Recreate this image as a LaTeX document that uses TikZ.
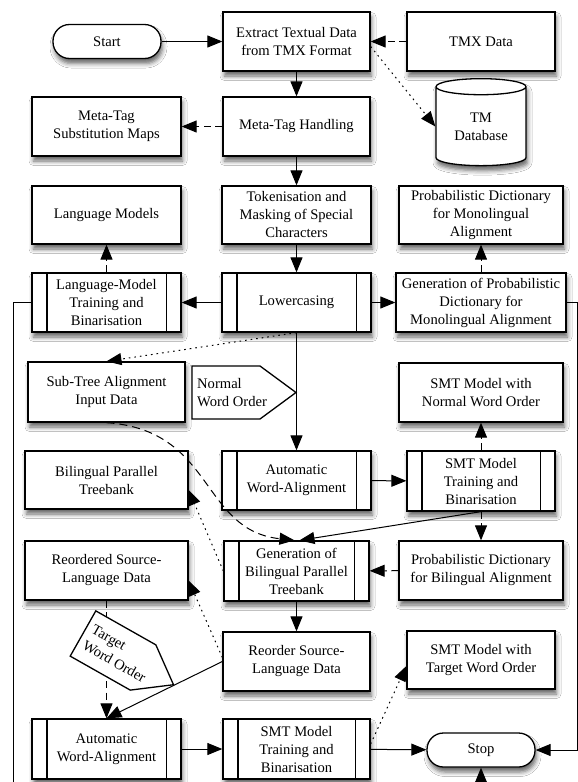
\documentclass[tikz,border=0pt]{standalone}
\usepackage{fontspec}
\setmainfont{Liberation Serif}
\usetikzlibrary{arrows.meta,shapes.geometric,shadows.blur}
\begin{document}
\begin{tikzpicture}[x=1pt,y=-1pt,font=\fontsize{14.6}{18}\selectfont,
  box/.style={draw, line width=1.3pt, fill=white, inner sep=0pt, align=center,
    blur shadow={shadow xshift=1.5pt, shadow yshift=-5pt, shadow blur radius=4.5pt, shadow opacity=60}},
  termbox/.style={box, rounded corners=16.5pt, minimum width=108pt, minimum height=34pt},
  conn/.style={line width=1pt, -{Triangle[length=15pt,width=12pt]}},
  dashline/.style={dash pattern=on 7pt off 4.5pt},
  dotline/.style={dash pattern=on 1.6pt off 4pt},
  tagline/.style={draw, line width=1.3pt, fill=white, line join=miter}]
\clip (0,0) rectangle (578,782);
\fill[white] (0,0) rectangle (578,782);
% top rows
\node[termbox] (start) at (107,41.5) {Start};
\node[box, minimum width=147pt, minimum height=59pt] (extract) at (296.5,41.5) {Extract Textual Data\\from TMX Format};
\node[box, minimum width=148pt, minimum height=59pt] (tmx) at (481,41.5) {TMX Data};
\node[box, cylinder, shape border rotate=90, aspect=0.3, minimum width=90pt, minimum height=87pt] (tmdb) at (481,126.5) {TM\\Database};
\node[box, minimum width=149pt, minimum height=59pt] (mtmaps) at (106.5,126.5) {Meta-Tag\\Substitution Maps};
\node[box, minimum width=147pt, minimum height=59pt] (mthandle) at (296.5,126.5) {Meta-Tag Handling};
\node[box, minimum width=149pt, minimum height=58pt] (langmod) at (106.5,215) {Language Models};
\node[box, minimum width=149pt, minimum height=58pt] (token) at (296.5,215) {Tokenisation and\\Masking of Special\\Characters};
\node[box, minimum width=164pt, minimum height=58pt] (pdmono) at (481,215) {Probabilistic Dictionary\\for Monolingual\\Alignment};
\node[box, minimum width=149pt, minimum height=59pt] (lmtrain) at (106.5,302.5) {Language-Model\\Training and\\Binarisation};
\node[box, minimum width=149pt, minimum height=59pt] (lower) at (296.5,302.5) {Lowercasing};
\node[box, minimum width=170pt, minimum height=59pt] (gpdmono) at (481,302.5) {Generation of Probabilistic\\Dictionary for\\Monolingual Alignment};
% middle rows
\node[box, minimum width=157pt, minimum height=60pt] (subtree) at (106.5,392) {Sub-Tree Alignment\\Input Data};
\node[box, minimum width=164pt, minimum height=59pt] (nwomodel) at (481,392.5) {SMT Model with\\Normal Word Order};
\node[box, minimum width=163pt, minimum height=58pt] (bpt) at (106.5,480) {Bilingual Parallel\\Treebank};
\node[box, minimum width=149pt, minimum height=59pt] (awa) at (296.5,480.5) {Automatic\\Word-Alignment};
\node[box, minimum width=148pt, minimum height=60pt] (smttrain) at (481,481) {SMT Model\\Training and\\Binarisation};
\node[box, minimum width=163pt, minimum height=59pt] (rso) at (106.5,570.5) {Reordered Source-\\Language Data};
\node[box, minimum width=145pt, minimum height=60pt] (genbpt) at (296.5,571) {Generation of\\Bilingual Parallel\\Treebank};
\node[box, minimum width=164pt, minimum height=59pt] (pdbi) at (481,570.5) {Probabilistic Dictionary\\for Bilingual Alignment};
% bottom rows
\node[box, minimum width=147pt, minimum height=59pt] (reorder) at (296.5,661.5) {Reorder Source-\\Language Data};
\node[box, minimum width=148pt, minimum height=58pt] (twomodel) at (481,660) {SMT Model with\\Target Word Order};
\node[box, minimum width=149pt, minimum height=60pt] (awatwo) at (106.5,749) {Automatic\\Word-Alignment};
\node[box, minimum width=147pt, minimum height=60pt] (smttwo) at (296.5,749) {SMT Model\\Training and\\Binarisation};
\node[termbox] (stop) at (481,750) {Stop};
% side bars of the process boxes
\foreach \n in {lmtrain,lower,awa,smttrain,genbpt,awatwo,smttwo}
  \draw[line width=1.3pt] ([xshift=15.5pt]\n.north west) -- ([xshift=15.5pt]\n.south west)
    ([xshift=-15.5pt]\n.north east) -- ([xshift=-15.5pt]\n.south east);
\coordinate (loopr) at (577,750);
\coordinate (loopl) at (13,800);
% connectors
\draw[conn] (start) -- (extract);
\draw[conn, dashline] (tmx) -- (extract);
\draw[conn, dotline] ([yshift=-5pt]extract.east) -- (tmdb.west);
\draw[conn] (extract) -- (mthandle);
\draw[conn, dashline] (mthandle) -- (mtmaps);
\draw[conn] (mthandle) -- (token);
\draw[conn] (token) -- (lower);
\draw[conn] (lower) -- (lmtrain);
\draw[conn, dashline] (lmtrain) -- (langmod);
\draw[conn] (lower) -- (gpdmono);
\draw[conn, dashline] (gpdmono) -- (pdmono);
\draw[conn] (gpdmono.east) -| (loopr) -- (stop.east);
\draw[conn] (lmtrain.west) -| (loopl) -| (stop.south);
\draw[conn, dotline] (lower.south) -- (subtree.north);
\draw[conn] (lower) -- (awa);
\draw[conn, dash pattern=on 8pt off 5pt] (subtree.south) .. controls (215,430) and (200,530) .. ([xshift=-2pt]genbpt.north);
\draw[conn] (smttrain.south) -- ([xshift=3pt]genbpt.north);
\draw[conn] (awa) -- (smttrain);
\draw[conn, dashline] (smttrain) -- (nwomodel);
\draw[conn, dashline] (smttrain) -- (pdbi);
\draw[conn, dashline] (pdbi) -- (genbpt);
\draw[conn, dotline] (genbpt.west) -- (bpt.-7);
\draw[conn] (genbpt) -- (reorder);
\draw[conn, dotline] ([yshift=4pt]reorder.west) -- (rso.-7);
\draw[conn] (reorder.west) -- (awatwo.north);
\draw[conn, dashline] (rso) -- (awatwo);
\draw[conn] (awatwo) -- (smttwo);
\draw[conn, dotline] ([yshift=5pt]smttwo.east) -- ([yshift=-6pt]twomodel.west);
\draw[conn] (smttwo) -- (stop);
% word-order tags
\draw[tagline] (192,366) -- (260,366) -- (296,392.5) -- (260,419) -- (192,419) -- cycle;
\node[anchor=west, align=left, inner sep=0pt] (nwotag) at (197,392.5) {Normal\\Word Order};
\begin{scope}[shift={(83,633.5)}, rotate=-29.5]
\draw[tagline] (0,-26) -- (69,-26) -- (104,0) -- (69,26) -- (0,26) -- cycle;
\node[anchor=west, align=left, inner sep=0pt, rotate=-29.5] (twotag) at (6,0) {Target\\Word Order};
\end{scope}
\end{tikzpicture}
\end{document}
